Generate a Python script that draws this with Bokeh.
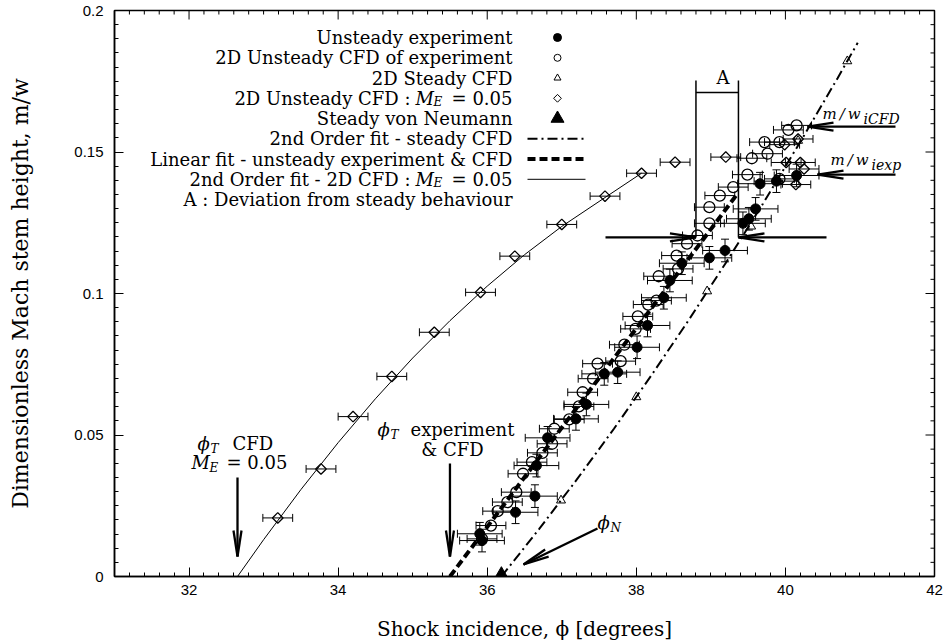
import numpy as np
from bokeh.plotting import figure
from bokeh.models import (Range1d, SingleIntervalTicker, CustomJSTickFormatter,
                          Label, Whisker, TeeHead, ColumnDataSource)
from bokeh.embed import file_html
from bokeh.resources import INLINE

# ---------------- data ----------------
# Unsteady experiment (filled circles)
exp_x = [35.90, 35.93, 36.38, 36.64, 36.66, 36.81, 37.19, 37.33, 37.57, 37.75, 38.01, 38.15,
         38.37, 38.45, 38.61, 38.98, 39.19, 39.43, 39.51, 39.60, 39.66, 39.88, 40.15]
exp_y = [0.0151, 0.0127, 0.0227, 0.0284, 0.0392, 0.0490, 0.0557, 0.0608, 0.0716, 0.0722, 0.0810, 0.0887,
         0.0985, 0.1046, 0.1107, 0.1126, 0.1152, 0.1248, 0.1264, 0.1299, 0.1388, 0.1397, 0.1417]
exp_xerr = 0.3
exp_yerr = 0.004

# 2D unsteady CFD of experiment (open circles)
cfd_x = [35.93, 36.05, 36.14, 36.27, 36.39, 36.48, 36.60, 36.74, 36.87, 36.90, 37.10, 37.23, 37.28,
         37.42, 37.48, 37.79, 37.84, 37.99, 38.02, 38.16, 38.27, 38.30, 38.56, 38.54, 38.68, 38.82,
         38.98, 38.98, 39.12, 39.30, 39.49, 39.55, 39.76, 39.72, 39.92, 39.92, 40.04, 40.15]
cfd_y = [0.0133, 0.0180, 0.0231, 0.0263, 0.0298, 0.0363, 0.0404, 0.0437, 0.0469, 0.0522, 0.0555, 0.0601, 0.0651,
         0.0699, 0.0752, 0.0761, 0.0819, 0.0875, 0.0919, 0.0961, 0.0975, 0.1061, 0.1087, 0.1134, 0.1176, 0.1205,
         0.1248, 0.1305, 0.1346, 0.1376, 0.1420, 0.1478, 0.1494, 0.1535, 0.1535, 0.1405, 0.1578, 0.1594]
cfd_xerr = 0.2

# 2D steady CFD (open triangles)
steady_x = [36.99, 38.00, 38.95, 39.54, 40.17, 40.83]
steady_y = [0.0269, 0.0634, 0.1008, 0.1237, 0.1540, 0.1821]

# Steady von Neumann
vn_x = [36.19]
vn_y = [0.0]

# 2D unsteady CFD, M_E = 0.05 (diamonds)
me_x = [33.19, 33.77, 34.20, 34.72, 35.29, 35.91, 36.37, 37.00, 37.58, 38.07, 38.52, 39.20,
        39.99, 40.17, 40.01, 40.20, 40.25, 40.14]
me_y = [0.0207, 0.0380, 0.0565, 0.0707, 0.0863, 0.1004, 0.1132, 0.1244, 0.1344, 0.1425, 0.1464, 0.1482,
        0.1526, 0.1546, 0.1463, 0.1463, 0.1440, 0.1385]
me_xerr = 0.2

# Fit curves
fit_steady_x = [36.19, 36.70, 37.20, 37.70, 38.20, 38.70, 39.20, 39.70, 40.20, 40.70, 40.97]
fit_steady_y = [0.0, 0.0169, 0.0342, 0.0522, 0.0710, 0.0905, 0.1108, 0.1318, 0.1536, 0.1761, 0.1886]
fit_lin_x = [35.50, 39.35]
fit_lin_y = [0.0, 0.135]
fit_me_x = [32.65, 33.00, 33.50, 34.00, 34.50, 35.00, 35.50, 36.00, 36.50, 37.00, 37.50, 38.07]
fit_me_y = [0.0, 0.0130, 0.0307, 0.0473, 0.0628, 0.0772, 0.0904, 0.1026, 0.1137, 0.1237, 0.1325, 0.1425]

# Key angles / heights
phi_T_cfd = 32.65
phi_T_exp = 35.50
phi_N = 36.19
mw_i_cfd = 0.159
mw_i_exp = 0.142
mw_onset = 0.1198
A_left, A_right = 38.80, 39.37

x_major, x_minor = 2, 0.2
y_major, y_minor = 0.05, 0.005

legend_labels = ["Unsteady experiment", "2D Unsteady CFD of experiment", "2D Steady CFD",
                 "2D Unsteady CFD :", "Steady von Neumann", "2nd Order fit - steady CFD",
                 "Linear fit - unsteady experiment & CFD", "2nd Order fit - 2D CFD :",
                 "A : Deviation from steady behaviour"]

# ---------------- figure ----------------
X0, X1, Y0, Y1 = 31, 42, 0.0, 0.2
FL, FT, FW, FH = 114, 10, 820, 566   # frame position in page pixels


def X(px):
    return X0 + (px - FL) * (X1 - X0) / FW


def Y(py):
    return Y0 + (FT + FH - py) * (Y1 - Y0) / FH


def PX(x):
    return FL + (x - X0) * FW / (X1 - X0)


def PY(y):
    return FT + FH - (y - Y0) * FH / (Y1 - Y0)


p = figure(frame_width=FW, frame_height=FH, x_range=Range1d(X0, X1), y_range=Range1d(Y0, Y1),
           output_backend="svg", toolbar_location=None,
           min_border_left=FL, min_border_top=FT, min_border_right=10, min_border_bottom=60,
           x_axis_label="Shock incidence, \u03d5 [degrees]",
           y_axis_label="Dimensionless Mach stem height, m/w")
p.background_fill_color = "white"
p.border_fill_color = "white"
p.xgrid.visible = False
p.ygrid.visible = False
p.outline_line_color = "black"
p.outline_line_width = 1.5

p.xaxis.ticker = SingleIntervalTicker(interval=x_major, num_minor_ticks=10)
p.yaxis.ticker = SingleIntervalTicker(interval=y_major, num_minor_ticks=10)
p.yaxis.formatter = CustomJSTickFormatter(code="return (Math.round(tick*1000)/1000).toString();")

for ax in list(p.xaxis) + list(p.yaxis):
    ax.major_tick_in = 9
    ax.major_tick_out = 0
    ax.minor_tick_in = 4
    ax.minor_tick_out = 0
    ax.axis_line_width = 1.5
    ax.axis_line_color = "black"
    ax.major_tick_line_color = "black"
    ax.minor_tick_line_color = "black"
    ax.major_label_text_font = "Liberation Sans"
    ax.major_label_text_font_size = "15px"
    ax.major_label_text_color = "black"
    ax.axis_label_text_font = "DejaVu Serif"
    ax.axis_label_text_font_size = "20px"
    ax.axis_label_text_font_style = "normal"
    ax.axis_label_text_color = "black"

p.xaxis.major_label_standoff = 8
p.xaxis.axis_label_standoff = 19
p.yaxis.major_label_standoff = 11
p.yaxis.axis_label_standoff = 38
p.yaxis.axis_label_text_font_size = "22px"

# ticks on the top and right edges of the frame
tx0, ty0, tx1, ty1 = [], [], [], []
n_x = int(round((X1 - X0) / x_minor))
for k in range(n_x + 1):
    xv = X0 + k * x_minor
    major = abs((xv / x_major) - round(xv / x_major)) < 1e-6
    L = 9 if major else 4
    tx0.append(xv); ty0.append(Y1); tx1.append(xv); ty1.append(Y1 - L * (Y1 - Y0) / FH)
n_y = int(round((Y1 - Y0) / y_minor))
for k in range(n_y + 1):
    yv = Y0 + k * y_minor
    major = k % int(round(y_major / y_minor)) == 0
    L = 9 if major else 4
    tx0.append(X1); ty0.append(yv); tx1.append(X1 - L * (X1 - X0) / FW); ty1.append(yv)
p.segment(tx0, ty0, tx1, ty1, line_color="black", line_width=1)

# ---------------- fits ----------------
p.line(fit_steady_x, fit_steady_y, line_color="black", line_width=2, line_dash="10 4 2 4")
p.line(fit_lin_x, fit_lin_y, line_color="black", line_width=4, line_dash="8 4")
p.line(fit_me_x, fit_me_y, line_color="black", line_width=1)


# ---------------- error bars ----------------
def hbars(xs, ys, err):
    src = ColumnDataSource(dict(b=ys, lo=[v - err for v in xs], up=[v + err for v in xs]))
    p.add_layout(Whisker(source=src, base="b", lower="lo", upper="up", dimension="width",
                         line_color="black", line_width=1,
                         upper_head=TeeHead(size=8, line_width=1, line_color="black"),
                         lower_head=TeeHead(size=8, line_width=1, line_color="black")))


def vbars(xs, ys, err):
    src = ColumnDataSource(dict(b=xs, lo=[v - err for v in ys], up=[v + err for v in ys]))
    p.add_layout(Whisker(source=src, base="b", lower="lo", upper="up", dimension="height",
                         line_color="black", line_width=1,
                         upper_head=TeeHead(size=8, line_width=1, line_color="black"),
                         lower_head=TeeHead(size=8, line_width=1, line_color="black")))


hbars(me_x, me_y, me_xerr)
hbars(cfd_x, cfd_y, cfd_xerr)
hbars(exp_x, exp_y, exp_xerr)
vbars(exp_x, exp_y, exp_yerr)

# ---------------- markers ----------------
p.scatter(me_x, me_y, marker="square", angle=np.pi / 4, size=7.5, fill_color=None,
          line_color="black", line_width=1.3)
p.scatter(steady_x, steady_y, marker="triangle", size=9, fill_color=None,
          line_color="black", line_width=1)
p.scatter(cfd_x, cfd_y, marker="circle", size=11, fill_color=None, line_color="black", line_width=1.3)
p.scatter(exp_x, exp_y, marker="circle", size=10, fill_color="black", line_color="black")
p.scatter(vn_x, vn_y, marker="triangle", size=17, fill_color="black", line_color="black")

# ---------------- text helpers ----------------
SERIF = "DejaVu Serif"


def lab(px, py, text, size="18px", align="left", style="normal"):
    p.add_layout(Label(x=X(px), y=Y(py), text=text, text_font=SERIF, text_font_size=size,
                       text_align=align, text_baseline="middle", text_font_style=style,
                       text_color="black"))


# ---------------- legend ----------------
rows = [37, 57.3, 77.5, 97.8, 118, 138.3, 158.5, 178.8, 199]
TX, MX = 512, 557
for i, t in enumerate(legend_labels):
    if i in (3, 7):
        lab(410, rows[i], t, align="right")
        lab(415, rows[i], "M", style="italic")
        lab(433, rows[i] + 4, "E", size="12px", style="italic")
        lab(TX, rows[i], "= 0.05", align="right")
    else:
        lab(TX, rows[i], t, align="right")

p.scatter([X(MX)], [Y(rows[0])], marker="circle", size=8, fill_color="black", line_color="black")
p.scatter([X(MX)], [Y(rows[1])], marker="circle", size=7, fill_color=None, line_color="black")
p.scatter([X(MX)], [Y(rows[2])], marker="triangle", size=7, fill_color=None, line_color="black")
p.scatter([X(MX)], [Y(rows[3])], marker="square", angle=np.pi / 4, size=5.5, fill_color=None,
          line_color="black")
p.scatter([X(MX)], [Y(rows[4])], marker="triangle", size=13, fill_color="black", line_color="black")
p.line([X(527), X(585)], [Y(rows[5])] * 2, line_color="black", line_width=2, line_dash="10 4 2 4")
p.line([X(527), X(585)], [Y(rows[6])] * 2, line_color="black", line_width=4, line_dash="8 4")
p.line([X(527), X(585)], [Y(rows[7])] * 2, line_color="black", line_width=1)

# ---------------- arrows ----------------
ax0, ay0, ax1, ay1 = [], [], [], []


def arrow(px0, py0, px1, py1, L=26, hw=4):
    d = np.hypot(px1 - px0, py1 - py0)
    ux, uy = (px1 - px0) / d, (py1 - py0) / d
    nx, ny = -uy, ux
    segs = [(px0, py0, px1, py1),
            (px1 - L * ux + hw * nx, py1 - L * uy + hw * ny, px1, py1),
            (px1 - L * ux - hw * nx, py1 - L * uy - hw * ny, px1, py1)]
    for a, b, c, e in segs:
        ax0.append(X(a)); ay0.append(Y(b)); ax1.append(X(c)); ay1.append(Y(e))


arrow(PX(phi_T_cfd), 477, PX(phi_T_cfd), 556)
arrow(PX(phi_T_exp), 463, PX(phi_T_exp), 556)
arrow(597, 528, 523, 564)
arrow(895, PY(mw_i_cfd), 807, PY(mw_i_cfd))
arrow(895, PY(mw_i_exp), 817, PY(mw_i_exp))
arrow(605, PY(mw_onset), PX(A_left), PY(mw_onset))
arrow(826, PY(mw_onset), PX(A_right), PY(mw_onset))
p.segment(ax0, ay0, ax1, ay1, line_color="black", line_width=2.3)

# bracket A
p.segment([A_left, A_right, A_left], [Y(80), Y(80), Y(92)], [A_left, A_right, A_right],
          [mw_onset, mw_onset, Y(92)], line_color="black", line_width=1.5)
lab(716, 77, "A", size="18px")

# ---------------- annotations ----------------
lab(197, 443, "\u03d5", style="italic")
lab(210, 448, "T", size="12px", style="italic")
lab(232, 443, "CFD")
lab(191, 462, "M", style="italic")
lab(209, 467, "E", size="12px", style="italic")
lab(226, 462, "= 0.05")

lab(377, 429, "\u03d5", style="italic")
lab(390, 434, "T", size="12px", style="italic")
lab(410, 429, "experiment")
lab(452, 449, "& CFD", align="center")

lab(597, 522, "\u03d5", style="italic")
lab(610, 527, "N", size="12px", style="italic")

lab(822, 113, "m\u2009/\u2009w", size="15px", style="italic")
lab(863, 118, "iCFD", size="14px", style="italic")
lab(830, 159, "m\u2009/\u2009w", size="15px", style="italic")
lab(871, 164, "iexp", size="14px", style="italic")

open("out.html", "w").write(file_html(p, INLINE))
